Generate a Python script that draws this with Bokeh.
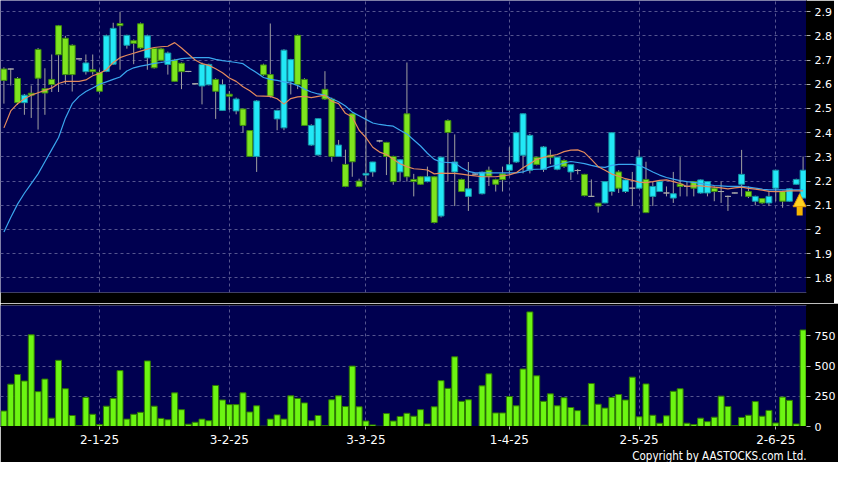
import numpy as np
from bokeh.plotting import figure
from bokeh.layouts import column
from bokeh.models import (Range1d, FixedTicker, Title, ColumnDataSource, Grid,
                          NumeralTickFormatter, Arrow, NormalHead)
from bokeh.embed import file_html
from bokeh.resources import INLINE

# ---------------- data ----------------
date_ticks = [14, 33, 53, 74, 93, 113]
date_labels = ["2-1-25", "3-2-25", "3-3-25", "1-4-25", "2-5-25", "2-6-25"]
price_ticks = [1.8, 1.9, 2.0, 2.1, 2.2, 2.3, 2.4, 2.5, 2.6, 2.7, 2.8, 2.9]
volume_ticks = [0, 250, 500, 750]

opens = [2.663, 2.663, 2.624, 2.524, 2.563, 2.744, 2.582, 2.620, 2.842, 2.790,
         2.761, 2.705, 2.652, 2.660, 2.649, 2.653, 2.683, 2.851, 2.761, 2.780,
         2.850, 2.709, 2.748, 2.746, 2.682, 2.700, 2.687, 2.653, 2.602, 2.593,
         2.598, 2.620, 2.492, 2.559, 2.490, 2.498, 2.409, 2.302, 2.680, 2.640,
         2.457, 2.420, 2.612, 2.802, 2.620, 2.349, 2.308, 2.579, 2.539, 2.302,
         2.269, 2.478, 2.200, 2.225, 2.238, 2.366, 2.360, 2.302, 2.238, 2.478,
         2.207, 2.218, 2.198, 2.218, 2.056, 2.450, 2.238, 2.207, 2.137, 2.229,
         2.148, 2.245, 2.206, 2.230, 2.245, 2.279, 2.307, 2.245, 2.299, 2.248,
         2.307, 2.249, 2.285, 2.238, 2.244, 2.228, 2.137, 2.109, 2.110, 2.157,
         2.238, 2.157, 2.171, 2.171, 2.207, 2.137, 2.157, 2.151, 2.130, 2.188,
         2.178, 2.198, 2.151, 2.151, 2.171, 2.157, 2.137, 2.151, 2.187, 2.157,
         2.117, 2.128, 2.110, 2.171, 2.157, 2.117, 2.187, 2.130]
closes = [2.616, 2.663, 2.524, 2.555, 2.555, 2.625, 2.564, 2.599, 2.722, 2.640,
          2.640, 2.705, 2.688, 2.652, 2.571, 2.800, 2.831, 2.842, 2.802, 2.769,
          2.750, 2.800, 2.668, 2.699, 2.729, 2.612, 2.652, 2.653, 2.602, 2.682,
          2.682, 2.571, 2.598, 2.551, 2.539, 2.430, 2.302, 2.531, 2.639, 2.551,
          2.492, 2.741, 2.702, 2.598, 2.430, 2.430, 2.458, 2.539, 2.302, 2.349,
          2.178, 2.280, 2.178, 2.232, 2.279, 2.366, 2.302, 2.198, 2.288, 2.218,
          2.198, 2.187, 2.218, 2.029, 2.299, 2.401, 2.279, 2.157, 2.168, 2.229,
          2.237, 2.221, 2.187, 2.206, 2.268, 2.400, 2.478, 2.389, 2.269, 2.341,
          2.299, 2.299, 2.261, 2.268, 2.244, 2.140, 2.137, 2.097, 2.198, 2.400,
          2.171, 2.205, 2.171, 2.299, 2.070, 2.178, 2.198, 2.151, 2.148, 2.178,
          2.178, 2.171, 2.205, 2.198, 2.157, 2.157, 2.137, 2.151, 2.228, 2.137,
          2.137, 2.110, 2.137, 2.245, 2.117, 2.168, 2.207, 2.245]
highs = [2.670, 2.665, 2.630, 2.560, 2.595, 2.750, 2.666, 2.723, 2.845, 2.800,
         2.765, 2.707, 2.723, 2.723, 2.660, 2.805, 2.854, 2.899, 2.805, 2.785,
         2.855, 2.805, 2.750, 2.750, 2.735, 2.705, 2.690, 2.655, 2.605, 2.690,
         2.685, 2.625, 2.620, 2.572, 2.545, 2.500, 2.410, 2.535, 2.685, 2.851,
         2.495, 2.745, 2.705, 2.806, 2.625, 2.435, 2.460, 2.654, 2.545, 2.370,
         2.330, 2.480, 2.210, 2.493, 2.280, 2.370, 2.362, 2.305, 2.290, 2.690,
         2.230, 2.220, 2.260, 2.220, 2.300, 2.455, 2.393, 2.210, 2.279, 2.232,
         2.240, 2.260, 2.210, 2.260, 2.340, 2.405, 2.480, 2.395, 2.300, 2.345,
         2.330, 2.300, 2.290, 2.270, 2.250, 2.230, 2.207, 2.110, 2.200, 2.402,
         2.245, 2.207, 2.238, 2.330, 2.280, 2.198, 2.200, 2.178, 2.238, 2.299,
         2.198, 2.200, 2.207, 2.200, 2.178, 2.198, 2.140, 2.153, 2.329, 2.178,
         2.140, 2.130, 2.157, 2.247, 2.160, 2.170, 2.210, 2.302]
lows = [2.520, 2.595, 2.515, 2.474, 2.461, 2.413, 2.474, 2.568, 2.568, 2.600,
        2.570, 2.703, 2.640, 2.640, 2.565, 2.650, 2.680, 2.660, 2.747, 2.683,
        2.745, 2.660, 2.665, 2.695, 2.640, 2.610, 2.580, 2.650, 2.600, 2.517,
        2.595, 2.457, 2.490, 2.494, 2.476, 2.400, 2.300, 2.238, 2.635, 2.545,
        2.410, 2.410, 2.558, 2.580, 2.430, 2.345, 2.305, 2.535, 2.280, 2.300,
        2.175, 2.218, 2.175, 2.198, 2.218, 2.360, 2.225, 2.185, 2.198, 2.198,
        2.137, 2.185, 2.195, 2.025, 2.050, 2.198, 2.097, 2.155, 2.077, 2.226,
        2.145, 2.180, 2.157, 2.157, 2.226, 2.275, 2.232, 2.232, 2.265, 2.238,
        2.270, 2.245, 2.255, 2.205, 2.228, 2.137, 2.137, 2.070, 2.108, 2.140,
        2.151, 2.151, 2.097, 2.170, 2.068, 2.097, 2.155, 2.137, 2.110, 2.137,
        2.137, 2.137, 2.148, 2.137, 2.117, 2.110, 2.077, 2.149, 2.137, 2.130,
        2.100, 2.105, 2.097, 2.117, 2.090, 2.115, 2.185, 2.128]
volumes = [128, 350, 430, 376, 758, 288, 392, 69, 547, 312,
           91, 8, 240, 101, 16, 168, 232, 462, 61, 101,
           117, 542, 168, 67, 56, 278, 139, 19, 35, 61,
           48, 339, 219, 181, 181, 278, 120, 171, 3, 61,
           96, 61, 254, 232, 195, 48, 91, 8, 221, 254,
           165, 499, 163, 45, 13, 2, 107, 45, 83, 109,
           85, 139, 21, 163, 379, 315, 576, 208, 221, 0,
           336, 435, 112, 112, 248, 171, 475, 947, 419, 208,
           270, 171, 238, 157, 131, 11, 355, 184, 152, 240,
           264, 219, 408, 80, 352, 93, 27, 88, 291, 312,
           27, 16, 69, 40, 77, 251, 165, 8, 75, 93,
           206, 85, 133, 29, 243, 216, 21, 798]
ma_fast = [2.420, 2.490, 2.520, 2.540, 2.555, 2.565, 2.575, 2.585, 2.603, 2.612,
           2.612, 2.612, 2.618, 2.635, 2.645, 2.660, 2.690, 2.710, 2.720, 2.728,
           2.737, 2.745, 2.752, 2.755, 2.757, 2.772, 2.750, 2.725, 2.700, 2.685,
           2.678, 2.664, 2.648, 2.626, 2.612, 2.590, 2.573, 2.552, 2.551, 2.550,
           2.540, 2.518, 2.541, 2.548, 2.550, 2.545, 2.550, 2.555, 2.530, 2.520,
           2.480, 2.465, 2.410, 2.380, 2.340, 2.320, 2.310, 2.290, 2.272, 2.260,
           2.251, 2.249, 2.246, 2.230, 2.233, 2.232, 2.232, 2.229, 2.225, 2.222,
           2.218, 2.218, 2.218, 2.222, 2.226, 2.235, 2.255, 2.272, 2.290, 2.298,
           2.304, 2.310, 2.322, 2.328, 2.329, 2.318, 2.290, 2.260, 2.245, 2.229,
           2.220, 2.210, 2.203, 2.196, 2.194, 2.198, 2.203, 2.205, 2.198, 2.190,
           2.178, 2.180, 2.180, 2.177, 2.175, 2.172, 2.168, 2.172, 2.175, 2.170,
           2.167, 2.163, 2.158, 2.157, 2.158, 2.160, 2.160, 2.160]
ma_slow = [1.990, 2.050, 2.105, 2.150, 2.190, 2.230, 2.280, 2.330, 2.380, 2.460,
           2.520, 2.550, 2.570, 2.585, 2.600, 2.610, 2.620, 2.630, 2.655, 2.668,
           2.675, 2.680, 2.686, 2.690, 2.695, 2.700, 2.706, 2.708, 2.710, 2.710,
           2.710, 2.703, 2.698, 2.694, 2.690, 2.685, 2.665, 2.648, 2.628, 2.620,
           2.616, 2.610, 2.605, 2.595, 2.580, 2.568, 2.560, 2.555, 2.540, 2.528,
           2.510, 2.485, 2.470, 2.455, 2.440, 2.434, 2.430, 2.427, 2.410, 2.395,
           2.370, 2.345, 2.315, 2.290, 2.279, 2.277, 2.275, 2.255, 2.240, 2.234,
           2.234, 2.234, 2.234, 2.234, 2.234, 2.234, 2.238, 2.248, 2.249, 2.250,
           2.260, 2.266, 2.275, 2.281, 2.277, 2.272, 2.265, 2.259, 2.257, 2.265,
           2.269, 2.269, 2.269, 2.265, 2.252, 2.238, 2.225, 2.215, 2.208, 2.202,
           2.198, 2.195, 2.191, 2.186, 2.182, 2.180, 2.178, 2.178, 2.178, 2.175,
           2.171, 2.167, 2.164, 2.164, 2.164, 2.164, 2.164, 2.164]

# ---------------- styling ----------------
NAVY = "#000050"
GRID = "#55558f"
UP_FILL, UP_LINE = "#22e8f6", "#1596a6"
DN_FILL, DN_LINE = "#7ee41e", "#3c8a10"
DOJI = "#a8a8a8"
WICK = "#a0a0a0"
VOL_FILL, VOL_LINE = "#6cf512", "#2f7a00"
FONT = "DejaVu Sans"

n = len(closes)
idx = np.arange(n)
o = np.array(opens); c = np.array(closes)
body_top = np.maximum(o, c)
body_bot = np.minimum(o, c)
fills = [UP_FILL if cc > oo else (DN_FILL if cc < oo else DOJI) for oo, cc in zip(o, c)]
lines = [UP_LINE if cc > oo else (DN_LINE if cc < oo else DOJI) for oo, cc in zip(o, c)]

src = ColumnDataSource(dict(x=idx, top=body_top, bottom=body_bot, high=highs, low=lows,
                            fill=fills, line=lines, vol=volumes,
                            maf=ma_fast, mas=ma_slow))

x_range = Range1d(-0.5, n - 0.5)


def style_axis(ax, size="11px"):
    ax.axis_line_color = "black"
    ax.axis_line_width = 1
    ax.major_tick_line_color = "#b0b0b0"
    ax.major_tick_in = 0
    ax.major_tick_out = 4
    ax.minor_tick_line_color = None
    ax.major_label_text_color = "white"
    ax.major_label_text_font = FONT
    ax.major_label_text_font_size = size
    ax.major_label_standoff = 4


# ---------------- price panel ----------------
p1 = figure(frame_width=806, frame_height=292, x_range=x_range,
            y_range=Range1d(1.74, 2.946), y_axis_location="right",
            x_axis_location=None, output_backend="svg", toolbar_location=None,
            background_fill_color=NAVY, border_fill_color="black",
            outline_line_color=None,
            min_border_left=0, min_border_top=0,
            min_border_bottom=11, min_border_right=2)
p1.yaxis.ticker = FixedTicker(ticks=price_ticks)
p1.yaxis.formatter = NumeralTickFormatter(format="0.[0]")
style_axis(p1.yaxis[0])
p1.ygrid.grid_line_color = GRID
p1.ygrid.grid_line_dash = "3 3"
p1.xgrid.visible = False
p1.add_layout(Grid(dimension=0, ticker=FixedTicker(ticks=date_ticks),
                   grid_line_color=GRID, grid_line_dash="3 3"))

p1.segment(x0="x", y0="low", x1="x", y1="high", source=src, line_color=WICK, line_width=1)
p1.vbar(x="x", top="top", bottom="bottom", width=0.86, source=src,
        fill_color="fill", line_color="line", line_width=1)
p1.line(x="x", y="mas", source=src, line_color="#3aa6ee", line_width=1.2)
p1.line(x="x", y="maf", source=src, line_color="#e48a5c", line_width=1.2)

# buy-signal arrow under the last candle
arrow_x = n - 1.5
arrow_tip = lows[-1] + 0.02
p1.add_layout(Arrow(end=NormalHead(size=13, fill_color="#ffd21f", line_color="#e89a00"),
                    x_start=arrow_x, y_start=arrow_tip - 0.09,
                    x_end=arrow_x, y_end=arrow_tip,
                    line_color="#f5b400", line_width=6))

# ---------------- volume panel ----------------
p2 = figure(frame_width=806, frame_height=121, x_range=x_range,
            y_range=Range1d(0, 1000), y_axis_location="right",
            output_backend="svg", toolbar_location=None,
            background_fill_color=NAVY, border_fill_color="black",
            outline_line_color=None,
            min_border_left=0, min_border_top=2,
            min_border_bottom=0, min_border_right=2)
p2.yaxis.ticker = FixedTicker(ticks=volume_ticks)
style_axis(p2.yaxis[0])
p2.xaxis.ticker = FixedTicker(ticks=date_ticks)
p2.xaxis.major_label_overrides = {t: l for t, l in zip(date_ticks, date_labels)}
style_axis(p2.xaxis[0], "12px")
p2.xaxis.major_tick_out = 3
p2.xaxis.major_label_standoff = 5
p2.ygrid.grid_line_color = GRID
p2.ygrid.grid_line_dash = "3 3"
p2.xgrid.grid_line_color = GRID
p2.xgrid.grid_line_dash = "3 3"

p2.vbar(x="x", top="vol", bottom=0, width=0.87, source=src,
        fill_color=VOL_FILL, line_color=VOL_LINE, line_width=1)

p2.add_layout(Title(text="Copyright by AASTOCKS.com Ltd.", align="right",
                    text_color="white", text_font="DejaVu Sans Condensed",
                    text_font_size="11.5px", text_font_style="normal", standoff=0), "below")

layout = column(p1, p2, spacing=0)
open("out.html", "w").write(file_html(layout, INLINE))
